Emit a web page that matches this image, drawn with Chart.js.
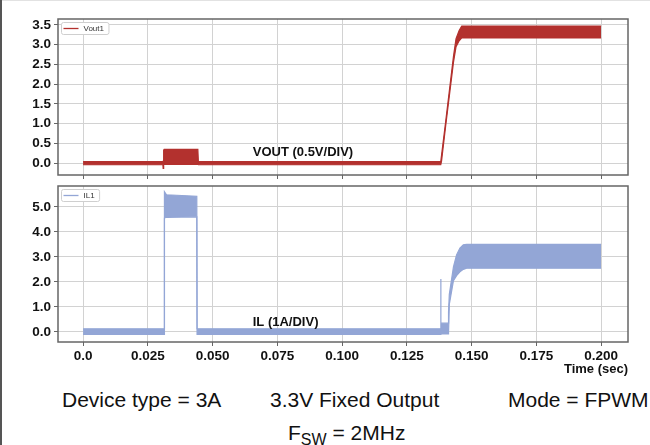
<!DOCTYPE html>
<html><head><meta charset="utf-8">
<script src="https://cdn.jsdelivr.net/npm/chart.js@4.4.1/dist/chart.umd.min.js"></script>
<style>
html,body{margin:0;padding:0;background:#fff;}
#wrap{position:relative;width:650px;height:445px;overflow:hidden;font-family:"Liberation Sans",Arial,sans-serif;background:#fff;}
#c1{position:absolute;left:0;top:0;}
#c2{position:absolute;left:0;top:180px;}
.t{position:absolute;font-size:21px;color:#111;white-space:nowrap;line-height:21px;}
.t sub{font-size:16px;line-height:0;vertical-align:-5px;}
#lb{position:absolute;left:0;top:0;width:2px;height:445px;background:#555;}
#tb{position:absolute;left:0;top:0;width:650px;height:1px;background:#e2e2e2;}
</style></head>
<body><div id="wrap">
<div id="tb"></div><div id="lb"></div>
<canvas id="c1" width="650" height="181" style="width:650px;height:181px"></canvas>
<canvas id="c2" width="650" height="200" style="width:650px;height:200px"></canvas>
<div class="t" style="left:62px;top:389px">Device type = 3A</div>
<div class="t" style="left:270px;top:389px">3.3V Fixed Output</div>
<div class="t" style="left:508px;top:389px">Mode = FPWM</div>
<div class="t" style="left:288px;top:422px">F<sub>SW</sub> = 2MHz</div>
</div>
<script>
// ---- data ----
const xTicks = [0, 0.025, 0.05, 0.075, 0.1, 0.125, 0.15, 0.175, 0.2];
const xTickLabels = ['0.0', '0.025', '0.050', '0.075', '0.100', '0.125', '0.150', '0.175', '0.200'];
const voutTicks = [0, 0.5, 1, 1.5, 2, 2.5, 3, 3.5];
const voutTickLabels = ['0.0', '0.5', '1.0', '1.5', '2.0', '2.5', '3.0', '3.5'];
const ilTicks = [0, 1, 2, 3, 4, 5];
const ilTickLabels = ['0.0', '1.0', '2.0', '3.0', '4.0', '5.0'];

// Vout1 envelope (min / max of the switching ripple band)
const voutTime = [0, 0.0308, 0.0309, 0.0311, 0.0313, 0.0443, 0.0445, 0.1381, 0.1384, 0.1400, 0.1430, 0.1440, 0.1452, 0.1462, 0.2];
const voutLow  = [-0.04, -0.04, -0.13, -0.04, -0.03, -0.03, -0.04, -0.04, 0.05, 0.95, 2.55, 2.95, 3.10, 3.17, 3.17];
const voutHigh = [0.04, 0.04, 0.05, 0.33, 0.35, 0.35, 0.04, 0.04, 0.2, 1.05, 2.70, 3.15, 3.36, 3.47, 3.47];

// IL1 envelope
const ilTime = [0, 0.0313, 0.0314, 0.0322, 0.0439, 0.0440, 0.13800, 0.13810, 0.13818, 0.1409, 0.1411, 0.1414, 0.1430, 0.1442, 0.1455, 0.1468, 0.1481, 0.2];
const ilLow  = [-0.10, -0.10, 4.55, 4.58, 4.60, -0.10, -0.10, -0.08, -0.08, -0.08, -0.05, 1.10, 2.05, 2.25, 2.40, 2.50, 2.55, 2.55];
const ilHigh = [0.13, 0.13, 5.60, 5.48, 5.42, 0.13, 0.13, 2.12, 0.35, 0.35, 0.80, 1.50, 2.60, 3.08, 3.35, 3.48, 3.50, 3.50];

const X_MIN = -0.0097, X_MAX = 0.2104;
const RED = '#b3312e', BLUE = '#93a6d6';
const FONT = '"Liberation Sans", Arial, sans-serif';

function pts(t, v) { return t.map((x, i) => ({x: x, y: v[i]})); }

function deco(label, color, note, noteX, noteY) {
  return {
    id: 'deco',
    afterDatasetsDraw(chart) {
      const {ctx, chartArea: a, scales} = chart;
      ctx.save();
      // note text
      ctx.font = 'bold 13px ' + FONT;
      ctx.fillStyle = '#111';
      ctx.textAlign = 'left';
      ctx.textBaseline = 'middle';
      ctx.fillText(note, scales.x.getPixelForValue(noteX), scales.y.getPixelForValue(noteY));
      // frame
      ctx.strokeStyle = '#666';
      ctx.lineWidth = 1.5;
      ctx.strokeRect(a.left, a.top, a.right - a.left, a.bottom - a.top);
      // legend box
      ctx.font = '8px ' + FONT;
      const tw = ctx.measureText(label).width;
      const bx = a.left + 3.5, by = a.top + 3.5, bw = tw + 27, bh = 12;
      ctx.fillStyle = '#fff';
      ctx.strokeStyle = '#cfcfcf';
      ctx.lineWidth = 1;
      ctx.beginPath();
      ctx.roundRect(bx, by, bw, bh, 2);
      ctx.fill(); ctx.stroke();
      ctx.strokeStyle = color; ctx.lineWidth = 1.3;
      ctx.beginPath(); ctx.moveTo(bx + 2, by + bh / 2); ctx.lineTo(bx + 17, by + bh / 2); ctx.stroke();
      ctx.fillStyle = '#333';
      ctx.textBaseline = 'middle';
      ctx.fillText(label, bx + 22, by + bh / 2 + 0.5);
      ctx.restore();
    }
  };
}

function noPad(s) { s.paddingTop = 0; s.paddingBottom = 0; s.paddingLeft = 0; s.paddingRight = 0; }

function makeChart(id, cfg) {
  const yTicksArr = cfg.yTicks, yLabels = cfg.yLabels;
  return new Chart(document.getElementById(id), {
    type: 'line',
    data: {
      datasets: [
        {label: cfg.label + ' min', data: pts(cfg.t, cfg.lo), borderColor: cfg.color, backgroundColor: cfg.color,
         borderWidth: 1.2, pointRadius: 0, tension: 0, fill: false},
        {label: cfg.label, data: pts(cfg.t, cfg.hi), borderColor: cfg.color, backgroundColor: cfg.color,
         borderWidth: 1.2, pointRadius: 0, tension: 0, fill: '-1'}
      ]
    },
    options: {
      responsive: false,
      animation: false,
      devicePixelRatio: 1,
      layout: {padding: cfg.padding},
      plugins: {legend: {display: false}, tooltip: {enabled: false}},
      scales: {
        x: {
          type: 'linear', min: X_MIN, max: X_MAX,
          afterBuildTicks: s => { s.ticks = xTicks.map(v => ({value: v})); },
          afterFit: s => { s.height = cfg.xHeight; noPad(s); },
          grid: {color: '#d2d2d2', lineWidth: 1, tickLength: 4, tickColor: '#666', drawTicks: true},
          border: {display: false},
          ticks: {
            display: cfg.showX, autoSkip: false, maxRotation: 0, padding: 2,
            color: '#111', font: {family: FONT, size: 13.5, weight: 'bold'},
            callback: (v, i) => xTickLabels[i]
          },
          title: {
            display: cfg.showX, text: 'Time (sec)', align: 'end', color: '#111',
            font: {family: FONT, size: 13, weight: 'bold'}, padding: {top: 0, bottom: 3}
          }
        },
        y: {
          type: 'linear', min: cfg.yMin, max: cfg.yMax,
          afterBuildTicks: s => { s.ticks = yTicksArr.map(v => ({value: v})); },
          afterFit: s => { s.width = 58; noPad(s); },
          grid: {color: '#d2d2d2', lineWidth: 1, tickLength: 4, tickColor: '#666'},
          border: {display: false},
          ticks: {
            padding: 3, color: '#111', font: {family: FONT, size: 13.5, weight: 'bold'},
            callback: (v, i) => yLabels[i]
          }
        }
      }
    },
    plugins: [deco(cfg.label, cfg.color, cfg.note, cfg.noteX, cfg.noteY)]
  });
}

makeChart('c1', {
  label: 'Vout1', color: RED, t: voutTime, lo: voutLow, hi: voutHigh,
  yTicks: voutTicks, yLabels: voutTickLabels, yMin: -0.30, yMax: 3.65,
  padding: {left: 0, right: 22, top: 19, bottom: 1}, xHeight: 5, showX: false,
  note: 'VOUT (0.5V/DIV)', noteX: 0.0655, noteY: 0.28
});
makeChart('c2', {
  label: 'IL1', color: BLUE, t: ilTime, lo: ilLow, hi: ilHigh,
  yTicks: ilTicks, yLabels: ilTickLabels, yMin: -0.40, yMax: 5.83,
  padding: {left: 0, right: 22, top: 6, bottom: 0}, xHeight: 38, showX: true,
  note: 'IL (1A/DIV)', noteX: 0.0655, noteY: 0.40
});
</script>
</body></html>
